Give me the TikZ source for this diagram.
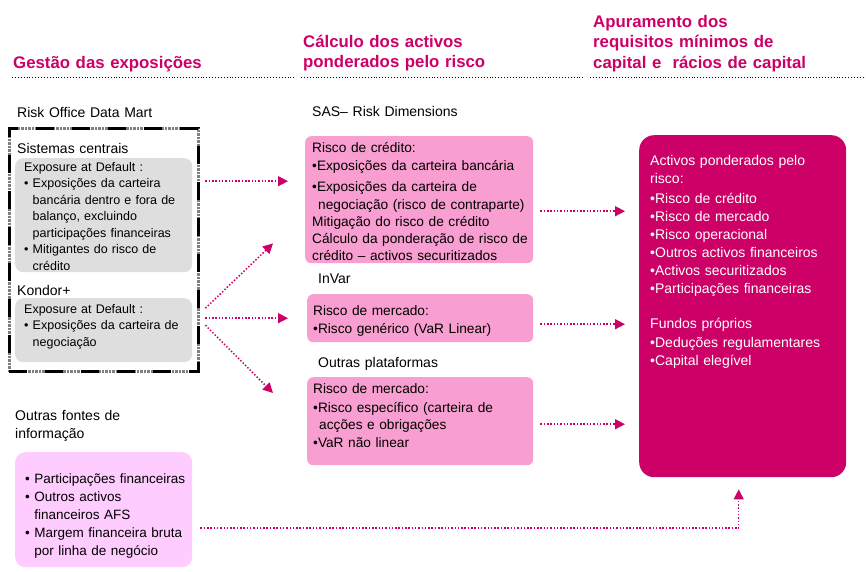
\documentclass[tikz,border=0pt]{standalone}
\usepackage{fontspec}
\setmainfont{Liberation Sans}
\usetikzlibrary{arrows.meta, positioning}

\definecolor{rubine}{HTML}{CC0066}
\definecolor{rosa}{HTML}{F99ED0}
\definecolor{rosaclaro}{HTML}{FFCCFF}
\definecolor{cinza}{HTML}{DEDEDE}

\newcommand{\gind}{\hphantom{• }}
\newcommand{\pind}{\hspace*{6pt}}

\begin{document}
\begin{tikzpicture}[x=1pt, y=1pt,
    head/.style    ={anchor=base west, inner sep=0pt, text width=260pt, align=left,
                     text=rubine, font=\bfseries\fontsize{16.8}{20.5}\selectfont},
    lbl/.style     ={anchor=base west, inner sep=0pt, text width=170pt, align=left,
                     font=\fontsize{14}{18}\selectfont},
    hrule/.style   ={line width=0.9pt, dash pattern=on 0.9pt off 2pt},
    framebox/.style={anchor=north west, draw=black!50, line width=2.6pt,
                     dash pattern=on 0.7pt off 0.7pt,
                     postaction={draw=black, line width=2.6pt, dash pattern=on 18pt off 18pt}},
    greybox/.style ={anchor=north west, fill=cinza, rounded corners=8pt},
    pinkbox/.style ={anchor=north west, fill=rosa, rounded corners=6pt},
    lightbox/.style={anchor=north west, fill=rosaclaro, rounded corners=10pt},
    rwabox/.style  ={anchor=north west, fill=rubine, rounded corners=15pt},
    greytxt/.style ={anchor=base west, inner sep=0pt, text width=175pt, align=left,
                     font=\fontsize{12.5}{16.5}\selectfont},
    pinktxt/.style ={anchor=base west, inner sep=0pt, text width=240pt, align=left,
                     font=\fontsize{13.7}{17}\selectfont},
    lighttxt/.style={anchor=base west, inner sep=0pt, text width=175pt, align=left,
                     font=\fontsize{13.5}{18}\selectfont},
    rwatxt/.style  ={anchor=base west, inner sep=0pt, text width=195pt, align=left,
                     text=white, font=\fontsize{14}{18}\selectfont},
    arr/.style     ={rubine, line width=1.5pt, dash pattern=on 1.5pt off 1.8pt,
                     -{Triangle[length=10pt, width=10pt]}}
  ]
  \useasboundingbox (0,0) rectangle (866,-571);

  % Headers
  \node[head] (hexp)  at (13,-68)  {Gestão das exposições};
  \node[head] (hcalc) at (303,-47) {Cálculo dos activos\\ponderados pelo risco};
  \node[head] (hapur) at (593,-27) {Apuramento dos\\requisitos mínimos de\\capital e~ rácios de capital};
  \draw[hrule] (12,-77)  -- (294,-77);
  \draw[hrule] (301,-77) -- (583,-77);
  \draw[hrule] (590,-77) -- (866,-77);

  % Gestao das exposicoes
  \node[lbl] (lodm) at (17,-117) {Risk Office Data Mart};
  \node[framebox, minimum width=189pt, minimum height=243pt] (odm) at (8,-127) {};
  \node[lbl] (lsis) at (17,-153) {Sistemas centrais};
  \node[greybox, minimum width=177pt, minimum height=114pt] (ead1) at (15,-158) {};
  \node[greytxt] (ead1txt) at ([shift={(9pt,-13pt)}]ead1.north west)
    {Exposure at Default :\\
     • Exposições da carteira\\
     \gind bancária dentro e fora de\\
     \gind balanço, excluindo\\
     \gind participações financeiras\\
     • Mitigantes do risco de\\
     \gind crédito};
  \node[lbl] (lkon) at (17,-295) {Kondor+};
  \node[greybox, minimum width=177pt, minimum height=64pt] (ead2) at (15,-298) {};
  \node[greytxt] (ead2txt) at ([shift={(9pt,-15pt)}]ead2.north west)
    {Exposure at Default :\\
     • Exposições da carteira de\\
     \gind negociação};

  \node[lbl] (lout) at (15,-420) {Outras fontes de\\informação};
  \node[lightbox, minimum width=177pt, minimum height=115pt] (outras) at (15,-452) {};
  \node[lighttxt] (outrastxt) at ([shift={(10pt,-31pt)}]outras.north west)
    {• Participações financeiras\\
     • Outros activos\\
     \gind financeiros AFS\\
     • Margem financeira bruta\\
     \gind por linha de negócio};

  % Calculo dos activos ponderados
  \node[lbl] (lsas) at (312,-116) {SAS– Risk Dimensions};
  \node[pinkbox, minimum width=228pt, minimum height=127pt] (sas) at (305,-136) {};
  \node[pinktxt] (sastxt) at ([shift={(7pt,-16pt)}]sas.north west)
    {Risco de crédito:\\[1pt]
     •Exposições da carteira bancária\\[4pt]
     •Exposições da carteira de\\[1pt]
     \pind negociação (risco de contraparte)\\
     Mitigação do risco de crédito\\
     Cálculo da ponderação de risco de\\
     crédito – activos securitizados};

  \node[lbl] (linv) at (318,-283) {InVar};
  \node[pinkbox, minimum width=226pt, minimum height=48pt] (invar) at (307,-294) {};
  \node[pinktxt] (invartxt) at ([shift={(6pt,-21pt)}]invar.north west)
    {Risco de mercado:\\[1pt]
     •Risco genérico (VaR Linear)};

  \node[lbl] (lplat) at (318,-367) {Outras plataformas};
  \node[pinkbox, minimum width=226pt, minimum height=88pt] (plat) at (307,-377) {};
  \node[pinktxt] (plattxt) at ([shift={(6pt,-16pt)}]plat.north west)
    {Risco de mercado:\\[2pt]
     •Risco específico (carteira de\\
     \pind acções e obrigações\\[1pt]
     •VaR não linear};

  % Apuramento dos requisitos
  \node[rwabox, minimum width=207pt, minimum height=342pt] (rwa) at (639,-135) {};
  \node[rwatxt] (rwatext) at ([shift={(11pt,-30pt)}]rwa.north west)
    {Activos ponderados pelo\\
     risco:\\[2pt]
     •Risco de crédito\\
     •Risco de mercado\\
     •Risco operacional\\
     •Outros activos financeiros\\
     •Activos securitizados\\
     •Participações financeiras\\[17pt]
     Fundos próprios\\[1pt]
     •Deduções regulamentares\\
     •Capital elegível};

  % Arrows
  \draw[arr] ([shift={(13pt,34pt)}]ead1.east) -- ([shift={(-17pt,18.5pt)}]sas.west);
  \draw[arr] ([shift={(13pt,22pt)}]ead2.east) -- ([shift={(-32pt,20pt)}]sas.south west);
  \draw[arr] ([shift={(13pt,12pt)}]ead2.east) -- ([xshift=-19pt]invar.west);
  \draw[arr] ([shift={(13pt,5pt)}]ead2.east)  -- ([shift={(-34pt,-16pt)}]plat.north west);

  \draw[arr] ([shift={(7pt,-11.5pt)}]sas.east) -- ([shift={(-14pt,95pt)}]rwa.west);
  \draw[arr] ([shift={(7pt,-6pt)}]invar.east)  -- ([shift={(-14pt,-18pt)}]rwa.west);
  \draw[arr] ([shift={(7pt,-3pt)}]plat.east)   -- ([shift={(-14pt,-118pt)}]rwa.west);

  \draw[arr] ([shift={(8pt,-18.5pt)}]outras.east) -| ([shift={(-4pt,-12pt)}]rwa.south);
\end{tikzpicture}
\end{document}
